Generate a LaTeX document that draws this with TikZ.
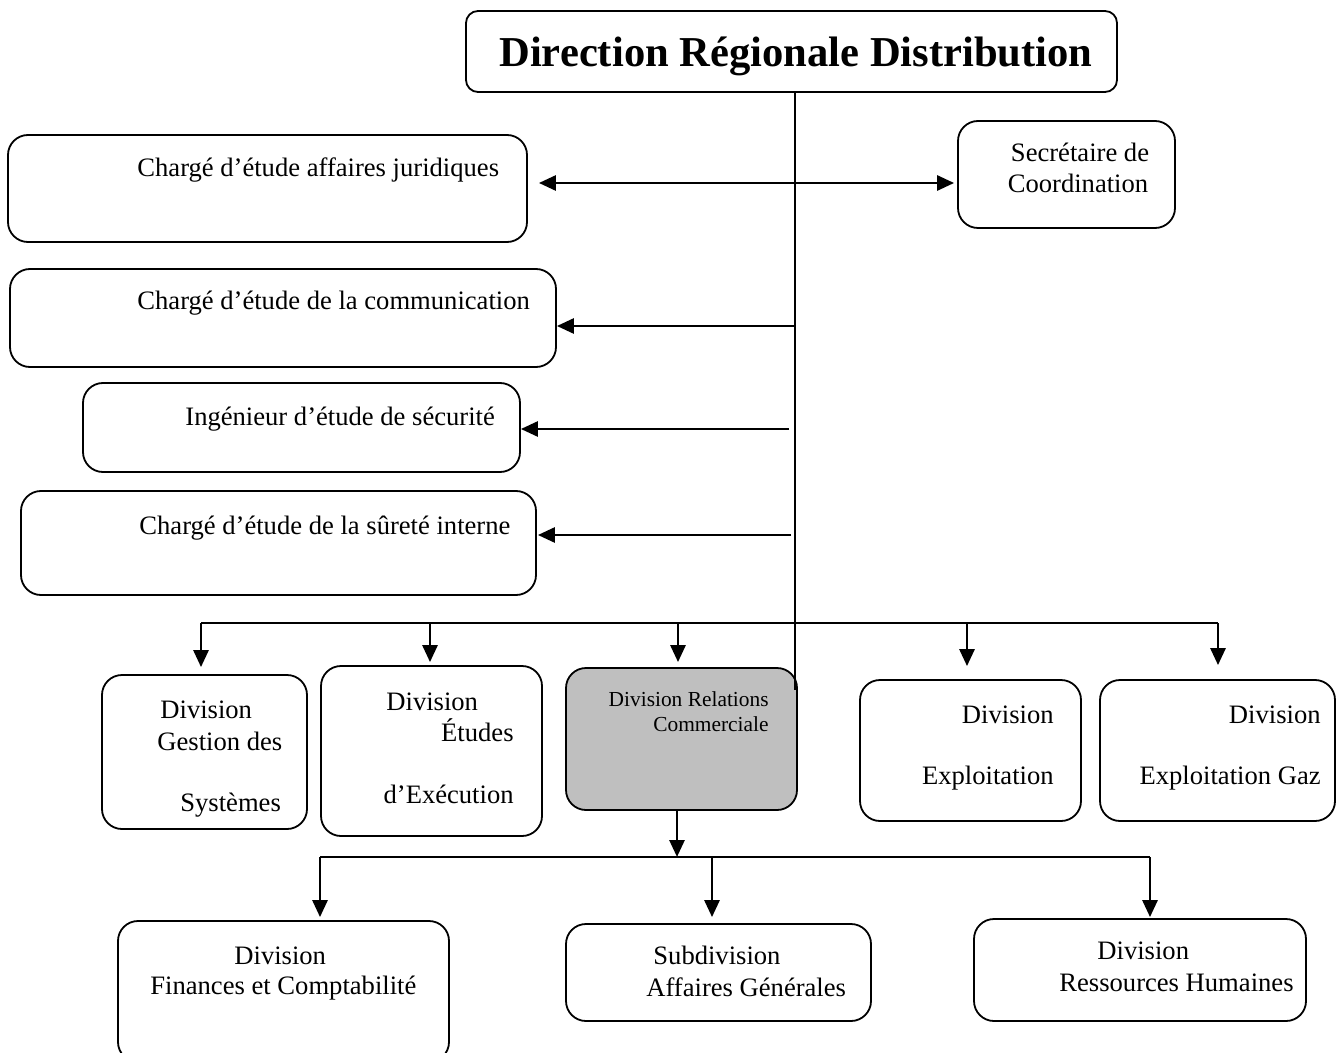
\documentclass[tikz,border=0pt]{standalone}
\usepackage{fontspec}
\setmainfont{Liberation Serif}
\usetikzlibrary{arrows.meta,fit}
\begin{document}
\begin{tikzpicture}[x=0.5pt,y=-0.5pt,
  box/.style={draw,line width=0.9pt,rounded corners=10pt,inner sep=0pt},
  tbox/.style={box,rounded corners=6pt},
  gbox/.style={box,fill=black!25},
  txt/.style={inner sep=0pt,font=\fontsize{13.3}{15.5}\selectfont},
  small/.style={inner sep=0pt,font=\fontsize{10.7}{12.5}\selectfont},
  ttl/.style={inner sep=0pt,font=\fontsize{21.3}{25}\selectfont\bfseries},
  arr/.style={line width=1.4pt,-{Triangle[length=8.5pt,width=7.5pt]}},
  darr/.style={line width=1.4pt,{Triangle[length=8.5pt,width=7.5pt]}-{Triangle[length=8.5pt,width=7.5pt]}},
  ln/.style={line width=0.9pt}]
\useasboundingbox (0,0) rectangle (1337,1053);
% boxes
\node[tbox,fit={(466,11) (1117,92)}] (top) {};
\node[box,fit={(8,135) (527,242)}] (jur) {};
\node[box,fit={(958,121) (1175,228)}] (sec) {};
\node[box,fit={(10,269) (556,367)}] (com) {};
\node[box,fit={(83,383) (520,472)}] (secu) {};
\node[box,fit={(21,491) (536,595)}] (sur) {};
\node[box,fit={(102,675) (307,829)}] (gest) {};
\node[box,fit={(321,666) (542,836)}] (etu) {};
\node[gbox,fit={(566,668) (797,810)}] (rel) {};
\node[box,fit={(860,680) (1081,821)}] (expl) {};
\node[box,fit={(1100,680) (1335,821)}] (gaz) {};
\node[box,fit={(118,921) (449,1062)}] (fin) {};
\node[box,fit={(566,924) (871,1021)}] (sub) {};
\node[box,fit={(974,919) (1306,1021)}] (rh) {};
% texts
\node[ttl] (ttop) at (796,56) {Direction Régionale Distribution};
\node[txt,anchor=base west] (tjur) at (137,177) {Chargé d’étude affaires juridiques};
\node[txt,anchor=base] (tsec1) at (1080,162) {Secrétaire de};
\node[txt,anchor=base] (tsec2) at (1078,193) {Coordination};
\node[txt,anchor=base west] (tcom) at (137,310) {Chargé d’étude de la communication};
\node[txt,anchor=base west] (tsecu) at (185,425) {Ingénieur d’étude de sécurité};
\node[txt,anchor=base west] (tsur) at (139,534) {Chargé d’étude de la sûreté interne};
\node[txt,anchor=base west] (tg1) at (160,718) {Division};
\node[txt,anchor=base west] (tg2) at (157,750) {Gestion des};
\node[txt,anchor=base west] (tg3) at (180,811) {Systèmes};
\node[txt,anchor=base west] (te1) at (386,710) {Division};
\node[txt,anchor=base east] (te2) at (514,741) {Études};
\node[txt,anchor=base east] (te3) at (514,803) {d’Exécution};
\node[small,anchor=base east] (tr1) at (769,706) {Division Relations};
\node[small,anchor=base east] (tr2) at (769,731) {Commerciale};
\node[txt,anchor=base east] (tx1) at (1054,723) {Division};
\node[txt,anchor=base east] (tx2) at (1054,784) {Exploitation};
\node[txt,anchor=base east] (tz1) at (1321,723) {Division};
\node[txt,anchor=base east] (tz2) at (1321,784) {Exploitation Gaz};
\node[txt,anchor=base west] (tf1) at (234,964) {Division};
\node[txt,anchor=base west] (tf2) at (150,994) {Finances et Comptabilité};
\node[txt,anchor=base west] (ts1) at (653,964) {Subdivision};
\node[txt,anchor=base west] (ts2) at (646,996) {Affaires Générales};
\node[txt,anchor=base west] (th1) at (1097,959) {Division};
\node[txt,anchor=base west] (th2) at (1059,991) {Ressources Humaines};
% coordinates
\coordinate (tx) at (795,0);
\coordinate (trunkEnd) at (795,690);
\coordinate (d1) at (0,183);
\coordinate (c2) at (795,326);
\coordinate (c3) at (789,429);
\coordinate (c4) at (791,535);
\coordinate (b1) at (201,623);
\coordinate (b2) at (430,623);
\coordinate (b3) at (678,623);
\coordinate (b4) at (967,623);
\coordinate (b5) at (1218,623);
\coordinate (rs) at (677,810);
\coordinate (bb) at (677,857);
\coordinate (bl) at (320,857);
\coordinate (bm) at (712,857);
\coordinate (br) at (1150,857);
% connectors
\draw[ln] (top.south -| tx) -- (trunkEnd);
\draw[darr,shorten <=5.5pt,shorten >=1.5pt] (jur.east |- d1) -- (sec.west |- d1);
\draw[arr] (c2) -- (com.east |- c2);
\draw[arr] (c3) -- (secu.east |- c3);
\draw[arr,shorten >=0.5pt] (c4) -- (sur.east |- c4);
\draw[ln] (b1) -- (b5);
\draw[arr,shorten >=3.5pt] (b1) -- (b1 |- gest.north);
\draw[arr,shorten >=1.5pt] (b2) -- (b2 |- etu.north);
\draw[arr,shorten >=2.5pt] (b3) -- (b3 |- rel.north);
\draw[arr,shorten >=6.5pt] (b4) -- (b4 |- expl.north);
\draw[arr,shorten >=7pt] (b5) -- (b5 |- gaz.north);
\draw[arr] (rs) -- (bb);
\draw[ln] (bl) -- (br);
\draw[arr,shorten >=1.5pt] (bl) -- (bl |- fin.north);
\draw[arr,shorten >=3pt] (bm) -- (bm |- sub.north);
\draw[arr,shorten >=0.5pt] (br) -- (br |- rh.north);
\end{tikzpicture}
\end{document}
